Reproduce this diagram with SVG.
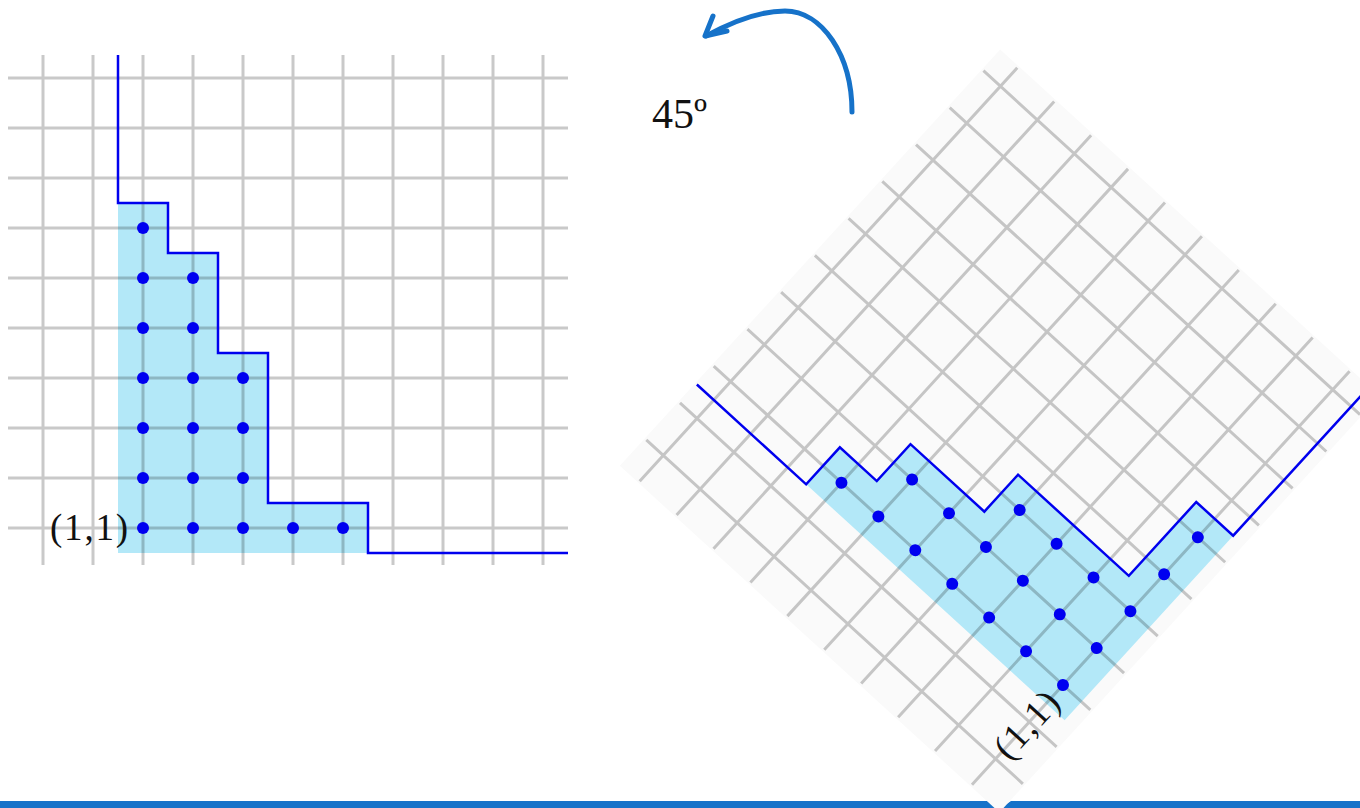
<svg xmlns="http://www.w3.org/2000/svg" width="1360" height="808" viewBox="0 0 1360 808">
  <style>
    .grid { fill: none; stroke: #000; stroke-opacity: 0.21; stroke-width: 3; }
    .region { fill: #b3e8f8; stroke: none; }
    .stair { fill: none; stroke: #0000ee; stroke-width: 2.5; stroke-linejoin: miter; }
    .dot { fill: #0000f0; }
    .lbl { font-family: "Liberation Serif", "DejaVu Serif", serif; font-size: 37px; fill: #111; }
    .rot { fill: none; stroke: #1672c9; stroke-width: 5; stroke-linecap: round; stroke-linejoin: round; }
    .deg { font-family: "Liberation Serif", "DejaVu Serif", serif; font-size: 42px; fill: #111; }
  </style>
  <rect width="1360" height="808" fill="#ffffff"/>

  <g id="bottom-bar">
    <path d="M0,801 H993 L1002,807 L1011,801 H1360 V808 H0 Z" fill="#1672c9"/>
  </g>

  <g id="left-diagram">
    <path class="region" d="M118,203H168V253H218V353H268V503H368V553H118Z"/>
    <path class="grid" d="M8,78H568M8,128H568M8,178H568M8,228H568M8,278H568M8,328H568M8,378H568M8,428H568M8,478H568M8,528H568M43,55V565M93,55V565M143,55V565M193,55V565M243,55V565M293,55V565M343,55V565M393,55V565M443,55V565M493,55V565M543,55V565"/>
    <path class="stair" d="M118,55V203H168V253H218V353H268V503H368V553H568"/>
    <g class="dot">
      <circle cx="143" cy="228" r="6"/><circle cx="143" cy="278" r="6"/><circle cx="143" cy="328" r="6"/><circle cx="143" cy="378" r="6"/><circle cx="143" cy="428" r="6"/><circle cx="143" cy="478" r="6"/><circle cx="143" cy="528" r="6"/>
      <circle cx="193" cy="278" r="6"/><circle cx="193" cy="328" r="6"/><circle cx="193" cy="378" r="6"/><circle cx="193" cy="428" r="6"/><circle cx="193" cy="478" r="6"/><circle cx="193" cy="528" r="6"/>
      <circle cx="243" cy="378" r="6"/><circle cx="243" cy="428" r="6"/><circle cx="243" cy="478" r="6"/><circle cx="243" cy="528" r="6"/>
      <circle cx="293" cy="528" r="6"/><circle cx="343" cy="528" r="6"/>
    </g>
    <text class="lbl" x="128" y="540" text-anchor="end" textLength="78" lengthAdjust="spacing">(1,1)</text>
  </g>

  <g id="right-diagram" transform="translate(1063,685) rotate(-47.6) translate(-143,-528)">
    <rect x="6" y="53" width="564" height="514" fill="#fafafa"/>
    <path class="region" d="M118,203H168V253H218V353H268V503H368V553H118Z"/>
    <path class="grid" d="M8,78H568M8,128H568M8,178H568M8,228H568M8,278H568M8,328H568M8,378H568M8,428H568M8,478H568M8,528H568M43,55V565M93,55V565M143,55V565M193,55V565M243,55V565M293,55V565M343,55V565M393,55V565M443,55V565M493,55V565M543,55V565"/>
    <path class="stair" d="M118,55V203H168V253H218V353H268V503H368V553H568"/>
    <g class="dot">
      <circle cx="143" cy="228" r="6"/><circle cx="143" cy="278" r="6"/><circle cx="143" cy="328" r="6"/><circle cx="143" cy="378" r="6"/><circle cx="143" cy="428" r="6"/><circle cx="143" cy="478" r="6"/><circle cx="143" cy="528" r="6"/>
      <circle cx="193" cy="278" r="6"/><circle cx="193" cy="328" r="6"/><circle cx="193" cy="378" r="6"/><circle cx="193" cy="428" r="6"/><circle cx="193" cy="478" r="6"/><circle cx="193" cy="528" r="6"/>
      <circle cx="243" cy="378" r="6"/><circle cx="243" cy="428" r="6"/><circle cx="243" cy="478" r="6"/><circle cx="243" cy="528" r="6"/>
      <circle cx="293" cy="528" r="6"/><circle cx="343" cy="528" r="6"/>
    </g>
    <text class="lbl" x="128" y="540" text-anchor="end" textLength="78" lengthAdjust="spacing">(1,1)</text>
  </g>

  <g id="connectors">
    <g id="rotation-arrow">
      <path class="rot" d="M852,112 C852,55 822,11 785,11 C760,11 735,20 706,36"/>
      <path class="rot" d="M713,16 L705,36 L727,31"/>
    </g>
  </g>

  <g id="angle-label">
    <text class="deg" x="652" y="128">45º</text>
  </g>
</svg>
